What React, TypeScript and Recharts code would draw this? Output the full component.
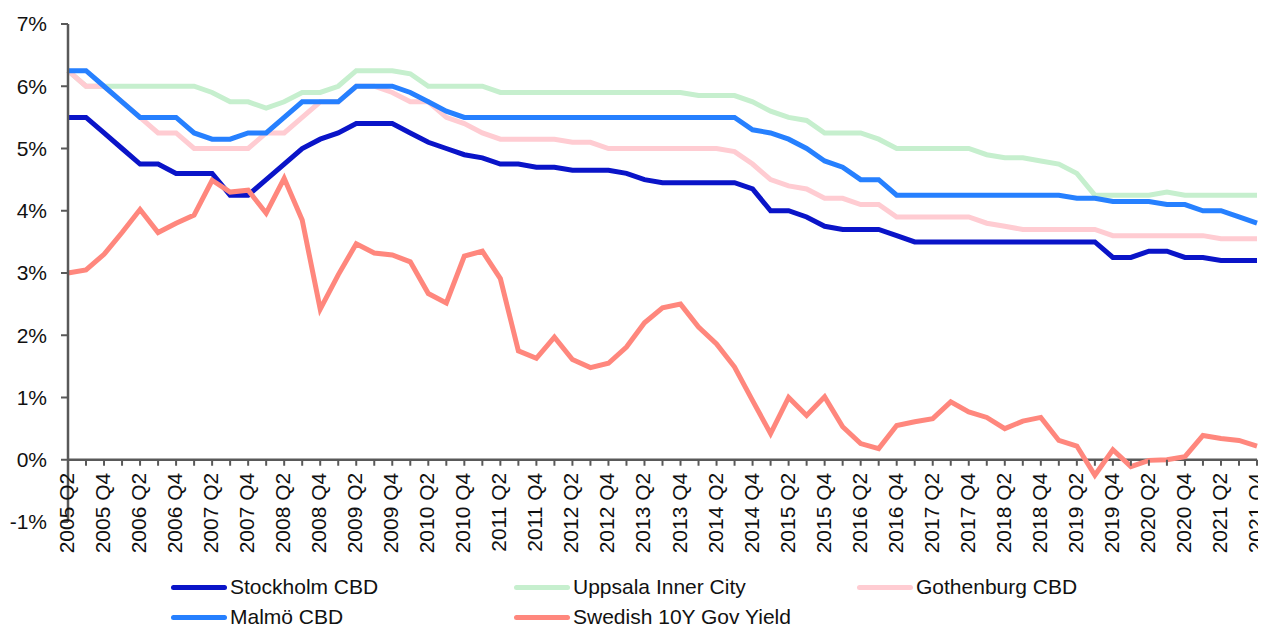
import { LineChart, Line, XAxis, YAxis, ReferenceLine } from 'recharts'

const FONT = 'Arial, "Liberation Sans", sans-serif'
const AXIS_GREY = '#595959'

const QUARTERS = [
  '2005 Q2', '2005 Q3', '2005 Q4',
  '2006 Q1', '2006 Q2', '2006 Q3', '2006 Q4',
  '2007 Q1', '2007 Q2', '2007 Q3', '2007 Q4',
  '2008 Q1', '2008 Q2', '2008 Q3', '2008 Q4',
  '2009 Q1', '2009 Q2', '2009 Q3', '2009 Q4',
  '2010 Q1', '2010 Q2', '2010 Q3', '2010 Q4',
  '2011 Q1', '2011 Q2', '2011 Q3', '2011 Q4',
  '2012 Q1', '2012 Q2', '2012 Q3', '2012 Q4',
  '2013 Q1', '2013 Q2', '2013 Q3', '2013 Q4',
  '2014 Q1', '2014 Q2', '2014 Q3', '2014 Q4',
  '2015 Q1', '2015 Q2', '2015 Q3', '2015 Q4',
  '2016 Q1', '2016 Q2', '2016 Q3', '2016 Q4',
  '2017 Q1', '2017 Q2', '2017 Q3', '2017 Q4',
  '2018 Q1', '2018 Q2', '2018 Q3', '2018 Q4',
  '2019 Q1', '2019 Q2', '2019 Q3', '2019 Q4',
  '2020 Q1', '2020 Q2', '2020 Q3', '2020 Q4',
  '2021 Q1', '2021 Q2', '2021 Q3', '2021 Q4',
]

const STOCKHOLM = [
  5.5, 5.5, 5.25, 5.0, 4.75, 4.75, 4.6, 4.6, 4.6, 4.25,
  4.25, 4.5, 4.75, 5.0, 5.15, 5.25, 5.4, 5.4, 5.4, 5.25,
  5.1, 5.0, 4.9, 4.85, 4.75, 4.75, 4.7, 4.7, 4.65, 4.65,
  4.65, 4.6, 4.5, 4.45, 4.45, 4.45, 4.45, 4.45, 4.35, 4.0,
  4.0, 3.9, 3.75, 3.7, 3.7, 3.7, 3.6, 3.5, 3.5, 3.5,
  3.5, 3.5, 3.5, 3.5, 3.5, 3.5, 3.5, 3.5, 3.25, 3.25,
  3.35, 3.35, 3.25, 3.25, 3.2, 3.2, 3.2,
]

const UPPSALA = [
  6.25, 6.0, 6.0, 6.0, 6.0, 6.0, 6.0, 6.0, 5.9, 5.75,
  5.75, 5.65, 5.75, 5.9, 5.9, 6.0, 6.25, 6.25, 6.25, 6.2,
  6.0, 6.0, 6.0, 6.0, 5.9, 5.9, 5.9, 5.9, 5.9, 5.9,
  5.9, 5.9, 5.9, 5.9, 5.9, 5.85, 5.85, 5.85, 5.75, 5.6,
  5.5, 5.45, 5.25, 5.25, 5.25, 5.15, 5.0, 5.0, 5.0, 5.0,
  5.0, 4.9, 4.85, 4.85, 4.8, 4.75, 4.6, 4.25, 4.25, 4.25,
  4.25, 4.3, 4.25, 4.25, 4.25, 4.25, 4.25,
]

const GOTHENBURG = [
  6.25, 6.0, 6.0, 5.75, 5.5, 5.25, 5.25, 5.0, 5.0, 5.0,
  5.0, 5.25, 5.25, 5.5, 5.75, 5.75, 6.0, 6.0, 5.9, 5.75,
  5.75, 5.5, 5.4, 5.25, 5.15, 5.15, 5.15, 5.15, 5.1, 5.1,
  5.0, 5.0, 5.0, 5.0, 5.0, 5.0, 5.0, 4.95, 4.75, 4.5,
  4.4, 4.35, 4.2, 4.2, 4.1, 4.1, 3.9, 3.9, 3.9, 3.9,
  3.9, 3.8, 3.75, 3.7, 3.7, 3.7, 3.7, 3.7, 3.6, 3.6,
  3.6, 3.6, 3.6, 3.6, 3.55, 3.55, 3.55,
]

const MALMO = [
  6.25, 6.25, 6.0, 5.75, 5.5, 5.5, 5.5, 5.25, 5.15, 5.15,
  5.25, 5.25, 5.5, 5.75, 5.75, 5.75, 6.0, 6.0, 6.0, 5.9,
  5.75, 5.6, 5.5, 5.5, 5.5, 5.5, 5.5, 5.5, 5.5, 5.5,
  5.5, 5.5, 5.5, 5.5, 5.5, 5.5, 5.5, 5.5, 5.3, 5.25,
  5.15, 5.0, 4.8, 4.7, 4.5, 4.5, 4.25, 4.25, 4.25, 4.25,
  4.25, 4.25, 4.25, 4.25, 4.25, 4.25, 4.2, 4.2, 4.15, 4.15,
  4.15, 4.1, 4.1, 4.0, 4.0, 3.9, 3.8,
]

const GOV_YIELD_10Y = [
  3.0, 3.05, 3.3, 3.65, 4.02, 3.65, 3.8, 3.93, 4.49, 4.3,
  4.33, 3.96, 4.52, 3.85, 2.42, 2.97, 3.47, 3.32, 3.29, 3.18,
  2.67, 2.52, 3.27, 3.35, 2.91, 1.75, 1.63, 1.97, 1.61, 1.48,
  1.55, 1.81, 2.2, 2.44, 2.5, 2.13, 1.86, 1.49, 0.95, 0.42,
  1.0, 0.71, 1.01, 0.53, 0.26, 0.18, 0.55, 0.61, 0.66, 0.93,
  0.77, 0.68, 0.5, 0.62, 0.68, 0.31, 0.22, -0.25, 0.16, -0.11,
  -0.01, 0.0, 0.05, 0.39, 0.34, 0.31, 0.22,
]

const Y_TICKS = [-1, 0, 1, 2, 3, 4, 5, 6, 7]

const SERIES = [
  { key: 'stockholm', name: 'Stockholm CBD', values: STOCKHOLM, color: '#0A14C8' },
  { key: 'uppsala', name: 'Uppsala Inner City', values: UPPSALA, color: '#C6EFCE' },
  { key: 'gothenburg', name: 'Gothenburg CBD', values: GOTHENBURG, color: '#FFCCD2' },
  { key: 'malmo', name: 'Malmö CBD', values: MALMO, color: '#2680FF' },
  { key: 'yield', name: 'Swedish 10Y Gov Yield', values: GOV_YIELD_10Y, color: '#FF877D' },
]

// legend order as in the picture: row by row, three columns
const LEGEND_ORDER = ['stockholm', 'uppsala', 'gothenburg', 'malmo', 'yield']

const data = QUARTERS.map((quarter, i) => {
  const row: Record<string, string | number> = { quarter }
  SERIES.forEach((s) => {
    row[s.key] = s.values[i]
  })
  return row
})

// layout
const CHART_W = 1258
const PLOT_TOP = 16
const PLOT_H = 498
const X_AXIS_H = 60
const CHART_H = PLOT_TOP + PLOT_H + X_AXIS_H
const Y_MIN = -1
const Y_MAX = 7
const ZERO_Y = PLOT_TOP + (PLOT_H * Y_MAX) / (Y_MAX - Y_MIN)

// x axis sits on the 0% line, labels only on Q2/Q4
const QuarterTick = (props: any) => {
  const { x, payload } = props
  const idx = QUARTERS.indexOf(payload?.value)
  const lx = x + 6
  const ly = ZERO_Y + 13
  return (
    <g>
      <line x1={x} x2={x} y1={ZERO_Y} y2={ZERO_Y + 6} stroke={AXIS_GREY} strokeWidth={2} />
      {idx % 2 === 0 && (
        <text
          x={lx}
          y={ly}
          transform={`rotate(-90 ${lx} ${ly})`}
          textAnchor="end"
          fontSize={21}
          fontFamily={FONT}
          fill="#111"
        >
          {payload.value}
        </text>
      )}
    </g>
  )
}

const Legend = () => (
  <div>
    {LEGEND_ORDER.map((key, i) => {
      const s = SERIES.find((item) => item.key === key)!
      const col = i % 3
      const row = Math.floor(i / 3)
      return (
        <div
          key={key}
          style={{
            position: 'absolute',
            left: 163 + col * 343,
            top: 564 + row * 30,
            height: 30,
            display: 'flex',
            alignItems: 'center',
            whiteSpace: 'nowrap',
          }}
        >
          <span style={{ display: 'inline-block', width: 56, height: 5, borderRadius: 3, background: s.color, marginRight: 3 }} />
          <span style={{ fontFamily: FONT, fontSize: 21, color: '#111', lineHeight: '30px' }}>{s.name}</span>
        </div>
      )
    })}
  </div>
)

export default function App() {
  return (
    <div style={{ position: 'relative', width: CHART_W, height: 618, background: '#fff' }}>
      <LineChart
        width={CHART_W}
        height={CHART_H}
        data={data}
        margin={{ top: PLOT_TOP, right: 9, left: 0, bottom: 0 }}
        style={{ overflow: 'visible' }}
      >
        <ReferenceLine y={0} stroke={AXIS_GREY} strokeWidth={2.5} />
        <XAxis
          dataKey="quarter"
          height={X_AXIS_H}
          axisLine={false}
          tickLine={false}
          interval={0}
          tick={QuarterTick}
        />
        <YAxis
          width={60}
          domain={[Y_MIN, Y_MAX]}
          ticks={Y_TICKS}
          allowDataOverflow
          tickFormatter={(v) => `${v}%`}
          axisLine={{ stroke: AXIS_GREY, strokeWidth: 2.5 }}
          tickLine={{ stroke: AXIS_GREY, strokeWidth: 2 }}
          tickSize={7}
          tickMargin={14}
          tick={{ fontSize: 21, fill: '#111', fontFamily: FONT }}
        />
        {SERIES.map((s) => (
          <Line
            key={s.key}
            type="linear"
            dataKey={s.key}
            name={s.name}
            stroke={s.color}
            strokeWidth={5}
            dot={false}
            activeDot={false}
            isAnimationActive={false}
          />
        ))}
      </LineChart>
      <Legend />
    </div>
  )
}
